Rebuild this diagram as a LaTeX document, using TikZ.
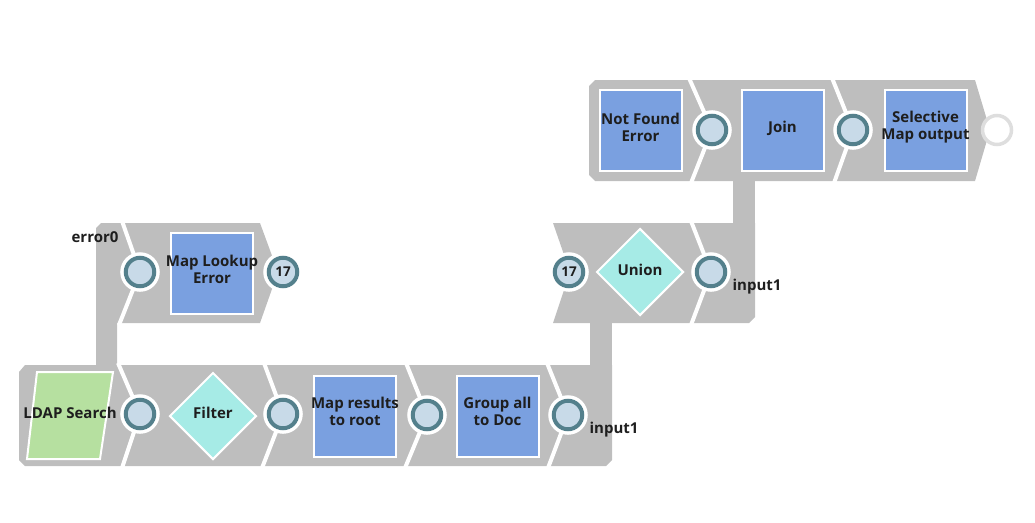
\documentclass[tikz,border=0pt]{standalone}
\usepackage{fontspec}
\setmainfont{Open Sans}
\usetikzlibrary{shapes.geometric}
\definecolor{band}{RGB}{190,190,190}
\definecolor{boxblue}{RGB}{122,160,224}
\definecolor{diam}{RGB}{166,235,230}
\definecolor{ldapgreen}{RGB}{182,224,160}
\definecolor{portfill}{RGB}{200,218,232}
\definecolor{ring}{RGB}{84,128,140}
\definecolor{openring}{RGB}{222,222,222}
\definecolor{ink}{RGB}{30,30,30}
\begin{document}
\begin{tikzpicture}[x=1pt,y=-1pt,
  snapbox/.style={draw=white, line width=2pt, fill=boxblue, minimum width=82pt, minimum height=81pt, inner sep=0pt},
  snapdiam/.style={diamond, draw=white, line width=2pt, fill=diam, minimum width=87pt, minimum height=87pt, inner sep=0pt},
  port/.style={circle, draw=ring, line width=4pt, fill=portfill, minimum size=28.5pt, inner sep=0pt,
    preaction={draw=white, line width=11pt}},
  openport/.style={circle, draw=openring, line width=3.5pt, fill=white, minimum size=29pt, inner sep=0pt},
  sep/.style={draw=white, line width=4pt, line join=round},
  lbl/.style={font=\bfseries\fontsize{15}{17}\selectfont, text=ink, align=center, inner sep=0pt},
  num/.style={font=\bfseries\fontsize{13.5}{15}\selectfont, text=ink}
]
\useasboundingbox (0,0) rectangle (1035,522);
% ---- grey bands
\fill[band] (19,372) -- (25,365) -- (612,365) -- (612,460) -- (606,466) -- (25,466) -- (19,460) -- cycle;
\fill[band] (96,228) -- (101,223) -- (260,223) -- (278,272) -- (260,323) -- (117,323) -- (117,366) -- (96,366) -- cycle;
\fill[band] (590,322) rectangle (612,366);
\fill[band] (553,223) -- (570,272) -- (553,323) -- (749,323) -- (755,317) -- (755,223) -- cycle;
\fill[band] (733,179) rectangle (755,224);
\fill[band] (589,86) -- (595,80) -- (975,80) -- (990,130) -- (975,181) -- (595,181) -- (589,175) -- cycle;
% ---- separators
\draw[sep] (118,363) -- (140,414) -- (122,468);
\draw[sep] (264,363) -- (283,414) -- (262,468);
\draw[sep] (406,363) -- (427,415) -- (405,468);
\draw[sep] (547,363) -- (568,415) -- (548,468);
\draw[sep] (122,221) -- (140,272) -- (119,325);
\draw[sep] (691,221) -- (711,272) -- (691,325);
\draw[sep] (689,78) -- (712,130) -- (691,183);
\draw[sep] (832,78) -- (853,130) -- (834,183);
% ---- snaps
\fill[ldapgreen, draw=white, line width=2pt] (37,372) -- (113,372) -- (100,459) -- (27,459) -- cycle;
\node[lbl] (ldap) at (70,413) {LDAP Search};
\node[snapdiam] (filter) at (213,416) {};
\node[lbl] (filtert) at (213,413) {Filter};
\node[snapbox] (mapres) at (355,416) {};
\node[lbl] (mapres t) at (355,411.5) {Map results\\to root};
\node[snapbox] (group) at (497.5,416) {};
\node[lbl] (group t) at (497.5,411.5) {Group all\\to Doc};
\node[snapbox] (mle) at (212,273) {};
\node[lbl] (mle t) at (212,269.5) {Map Lookup\\Error};
\node[snapdiam] (union) at (640,272) {};
\node[lbl] (union t) at (640,270) {Union};
\node[snapbox] (nfe) at (640.5,130.5) {};
\node[lbl] (nfe t) at (640.5,127) {Not Found\\Error};
\node[snapbox] (join) at (782.5,130.5) {};
\node[lbl] (join t) at (782.5,128) {Join};
\node[snapbox] (sel) at (925.5,130.5) {};
\node[lbl] (sel t) at (925.5,127) {Selective\\Map output};
% ---- ports
\node[port] (p1) at (140,414) {};
\node[port] (p2) at (283,414) {};
\node[port] (p3) at (427,415) {};
\node[port] (p4) at (568,415) {};
\node[port] (p5) at (140,272) {};
\node[port, num] (p6) at (283,272) {17};
\node[port, num] (p7) at (569,272) {17};
\node[port] (p8) at (711,272) {};
\node[port] (p9) at (712,130) {};
\node[port] (p10) at (853,130) {};
\node[openport] (p11) at (997,130) {};
% ---- labels
\node[lbl] (err0) at (95,237) {error0};
\node[lbl] (in1a) at (614,430) {input1};
\node[lbl] (in1b) at (757,287) {input1};
\end{tikzpicture}
\end{document}
